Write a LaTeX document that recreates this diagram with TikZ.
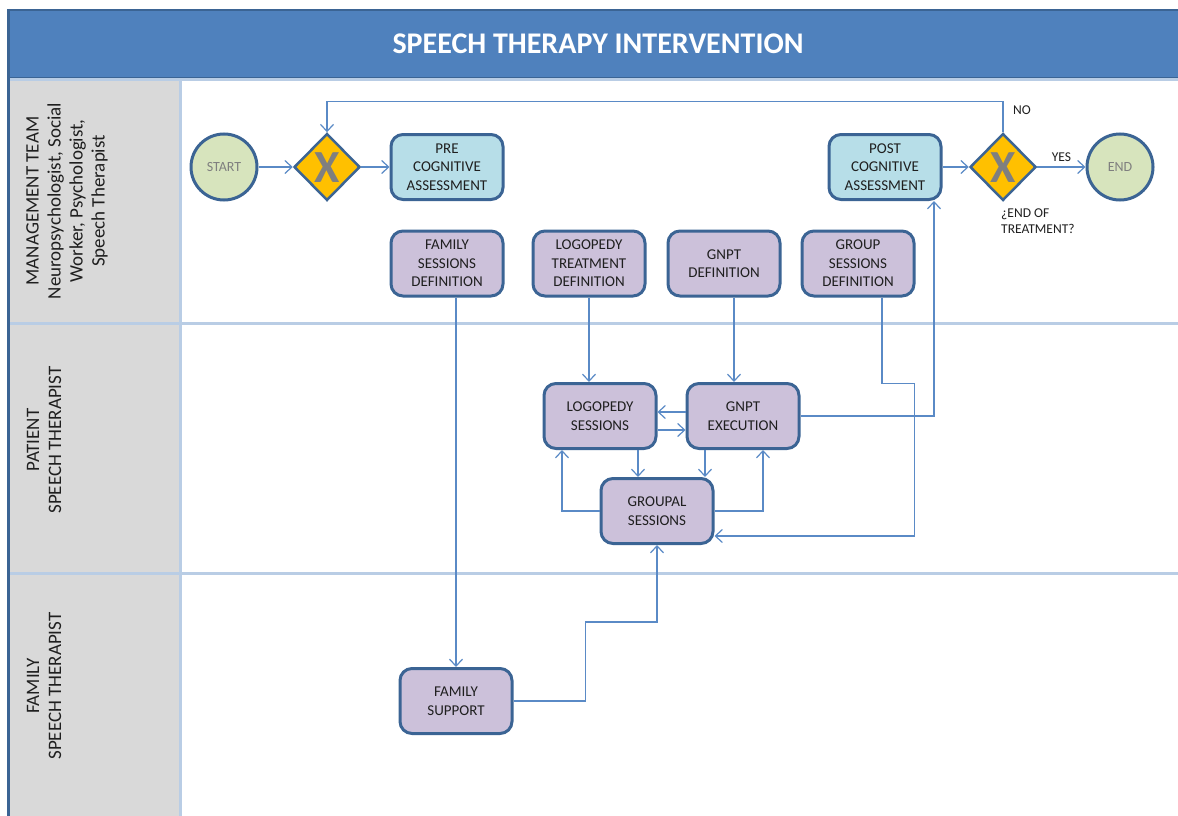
\documentclass[tikz,border=0pt]{standalone}
\usepackage{fontspec}
\setmainfont{Carlito}
\usetikzlibrary{arrows.meta,shapes.geometric,calc}

\definecolor{titleblue}{HTML}{4F81BD}
\definecolor{edgeblue}{HTML}{3B6494}
\definecolor{lanegray}{HTML}{D9D9D9}
\definecolor{laneline}{HTML}{B9CDE5}
\definecolor{flowblue}{HTML}{5A8AC6}
\definecolor{taskpurple}{HTML}{CCC1DA}
\definecolor{assesscyan}{HTML}{B7DEE8}
\definecolor{eventgreen}{HTML}{D7E4BD}
\definecolor{gateyellow}{HTML}{FFC000}
\definecolor{markgray}{HTML}{7F7F7F}
\definecolor{inkdark}{HTML}{1F1F1F}

\begin{document}
\begin{tikzpicture}[x=1pt,y=-1pt,
  task/.style={draw=edgeblue, line width=3pt, rounded corners=12pt, fill=taskpurple,
    minimum width=112pt, minimum height=65pt, align=center, inner sep=0pt,
    font=\fontsize{15}{18.5}\selectfont, text=inkdark},
  assess/.style={task, fill=assesscyan},
  event/.style={circle, draw=edgeblue, line width=3pt, fill=eventgreen,
    minimum size=66pt, inner sep=0pt, font=\fontsize{14}{16}\selectfont, text=markgray},
  gateway/.style={diamond, draw=edgeblue, line width=2.5pt, fill=gateyellow,
    minimum width=66pt, minimum height=67pt, inner sep=0pt},
  gatemark/.style={text=markgray, font=\fontsize{46}{46}\bfseries\selectfont, inner sep=0pt},
  flow/.style={draw=flowblue, line width=1.2pt, -{Straight Barb[length=7pt,width=13pt]}},
  lanelabel/.style={rotate=90, align=center, font=\fontsize{19}{22}\selectfont, text=inkdark},
  smalllabel/.style={font=\fontsize{13.5}{16}\selectfont, text=inkdark, inner sep=0pt},
]
\useasboundingbox (0,0) rectangle (1178,816);
\clip (0,0) rectangle (1178,816);
\fill[white] (0,0) rectangle (1178,816);

% lane header column and pool frame
\fill[lanegray] (8,80) rectangle (180,816);
\draw[edgeblue, fill=titleblue, line width=2pt] (8,10) rectangle (1190,78);
\draw[laneline, line width=3pt] (8,80) -- (1178,80);
\draw[laneline, line width=3pt] (8,323) -- (1178,323);
\draw[laneline, line width=3pt] (8,573) -- (1178,573);
\draw[laneline, line width=3pt] (180,80) -- (180,816);
\draw[edgeblue, line width=3pt] (8,9) -- (8,816);

% title and lane names
\node[font=\fontsize{30}{32}\bfseries\selectfont, text=white] (title) at (598,44) {SPEECH THERAPY INTERVENTION};
\node[lanelabel] (lane1) at (67,201) {MANAGEMENT TEAM\\Neuropsychologist, Social\\Worker, Psychologist,\\Speech Therapist};
\node[lanelabel] (lane2) at (44,440) {PATIENT\\SPEECH THERAPIST};
\node[lanelabel] (lane3) at (44,686) {FAMILY\\SPEECH THERAPIST};

% management lane
\node[event] (start) at (224,167) {START};
\node[gateway] (gw1) at (327,167) {};
\node[gatemark] (gw1x) at (327,168) {X};
\node[assess] (pre) at (447,167) {PRE\\COGNITIVE\\ASSESSMENT};
\node[task] (famdef) at (447,263.5) {FAMILY\\SESSIONS\\DEFINITION};
\node[task] (logdef) at (589,263.5) {LOGOPEDY\\TREATMENT\\DEFINITION};
\node[task] (gnptdef) at (724,263.5) {GNPT\\DEFINITION};
\node[task] (grpdef) at (858,263.5) {GROUP\\SESSIONS\\DEFINITION};
\node[assess] (post) at (885,167) {POST\\COGNITIVE\\ASSESSMENT};
\node[gateway] (gw2) at (1003,167) {};
\node[gatemark] (gw2x) at (1003,168) {X};
\node[event] (end) at (1120,167) {END};
\node[smalllabel, anchor=north west, align=left] (question) at (1001,209) {¿END OF\\TREATMENT?};
\node[smalllabel] (nolbl) at (1022,110) {NO};

% patient lane
\node[task] (logses) at (600,416) {LOGOPEDY\\SESSIONS};
\node[task] (gnptex) at (743,416) {GNPT\\EXECUTION};
\node[task] (grpses) at (657,511) {GROUPAL\\SESSIONS};

% family lane
\node[task] (famsup) at (456,701) {FAMILY\\SUPPORT};

% connector attachment points
\coordinate (gd) at ($(gnptdef.south)+(10,0)$);
\coordinate (gs1) at ($(grpdef.south)+(24,0)$);
\coordinate (gse) at ($(grpses.east)+(0,25)$);
\coordinate (ps) at ($(post.south)+(49,0)$);
\coordinate (lb) at ($(logses.south)+(38,0)$);
\coordinate (lb2) at ($(logses.south)+(-38,0)$);
\coordinate (gb) at ($(gnptex.south)+(-38,0)$);
\coordinate (gb2) at ($(gnptex.south)+(20,0)$);

% sequence flows
\draw[flow] (start) -- (gw1);
\draw[flow] (gw1) -- (pre);
\draw[flow] (post) -- (gw2);
\draw[flow] (gw2) -- node[smalllabel, above=5pt] (yeslbl) {YES} (end);
\draw[flow] (gw2.north) -- ++(0,-30.5) -| (gw1.north);
\draw[flow] (famsup.north |- famdef.south) -- (famsup.north);
\draw[flow] (logdef.south) -- (logdef.south |- logses.north);
\draw[flow] (gd) -- (gd |- gnptex.north);
\draw[flow] (gs1) -- ++(0,86) -| ($(gse)+(200,0)$) -- (gse);
\draw[flow] (gnptex.east) -| (ps);
\draw[flow] ($(gnptex.west)+(0,-4)$) -- ($(logses.east)+(0,-4)$);
\draw[flow] ($(logses.east)+(0,14)$) -- ($(gnptex.west)+(0,14)$);
\draw[flow] (lb) -- (lb |- grpses.north);
\draw[flow] (gb) -- (gb |- grpses.north);
\draw[flow] (grpses.west) -| (lb2);
\draw[flow] (grpses.east) -| (gb2);
\draw[flow] (famsup.east) -- ++(72,0) |- ($(grpses.south)+(0,77)$) -- (grpses.south);
\end{tikzpicture}
\end{document}
